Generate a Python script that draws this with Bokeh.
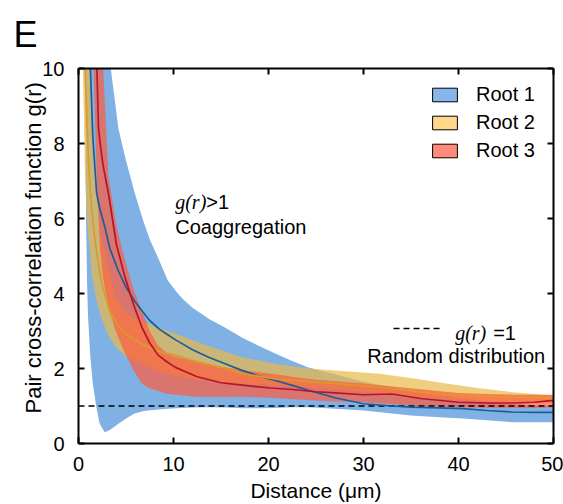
import numpy as np
from bokeh.plotting import figure
from bokeh.models import Range1d, LinearAxis, FixedTicker, Label, Legend, LegendItem, Title
from bokeh.embed import file_html
from bokeh.resources import INLINE

# ---------------- data ----------------
series_names = ["Root 1", "Root 2", "Root 3"]

# Root 1 (blue): distance, mean g(r), lower and upper band
r1_x = [0.7, 0.8, 0.9, 1.0, 1.25, 1.5, 1.9, 2.2, 2.75, 3.3, 4.2, 5.0, 5.9, 6.8, 7.5, 8.5, 9.4, 10.3,
        11, 12, 13.7, 15.5, 17.2, 19, 20.7, 22.5, 24.2, 27, 30, 33, 35, 38, 40.5, 43, 45.7, 48, 50]
r1_mean = [20, 18, 16, 13, 10, 8.2, 6.7, 6.3, 5.8, 5.2, 4.6, 4.17, 3.8, 3.5, 3.28, 3.05, 2.9, 2.75,
           2.65, 2.5, 2.3, 2.12, 1.95, 1.8, 1.68, 1.55, 1.42, 1.22, 1.06, 1.0, 0.97, 0.95, 0.93, 0.88, 0.84, 0.83, 0.83]
r1_lo = [10, 6, 4.3, 3.4, 2.3, 1.6, 0.95, 0.55, 0.3, 0.36, 0.53, 0.67, 0.8, 0.86, 0.89, 0.91, 0.93, 0.94,
         0.95, 0.96, 0.97, 0.96, 0.94, 0.94, 0.95, 0.97, 0.97, 0.93, 0.88, 0.8, 0.75, 0.7, 0.67, 0.62, 0.57, 0.57, 0.57]
r1_hi = [14, 14, 14, 14, 14, 14, 14, 14, 14, 10.2, 8.4, 7.55, 6.7, 5.95, 5.45, 4.88, 4.35, 4.05,
         3.85, 3.62, 3.33, 3.08, 2.83, 2.6, 2.4, 2.2, 2.03, 1.85, 1.65, 1.5, 1.4, 1.28, 1.2, 1.12, 1.05, 1.02, 1.0]

# Root 2 (yellow)
r2_x = [0.46, 0.7, 0.9, 1.05, 1.4, 1.8, 1.94, 2.4, 3.2, 4.0, 4.9, 5.8, 6.7, 7.5, 8.5, 10.2, 12.8,
        15.5, 17.2, 20.7, 24.2, 28, 31.7, 35, 38.7, 42, 45.7, 50]
r2_mean = [14, 10, 8.5, 7.5, 6.2, 5.3, 5.05, 4.3, 3.6, 3.2, 2.95, 2.78, 2.65, 2.55, 2.45, 2.35, 2.15,
           2.0, 1.87, 1.72, 1.65, 1.58, 1.5, 1.4, 1.3, 1.26, 1.24, 1.22]
r2_lo = [10, 7, 6.0, 5.5, 4.5, 3.95, 3.8, 3.35, 2.85, 2.55, 2.35, 2.22, 2.12, 2.02, 1.92, 1.8, 1.7,
         1.63, 1.6, 1.55, 1.5, 1.42, 1.35, 1.25, 1.18, 1.13, 1.1, 1.08]
r2_hi = [14, 14, 14, 11, 8.8, 7.0, 6.6, 5.6, 4.6, 3.9, 3.5, 3.37, 3.27, 3.18, 3.08, 2.93, 2.68,
         2.45, 2.3, 2.13, 2.0, 1.93, 1.86, 1.75, 1.6, 1.48, 1.37, 1.28]

# Root 3 (red)
r3_x = [1.58, 1.94, 2.1, 2.28, 2.6, 3.16, 4.0, 4.9, 5.8, 6.67, 7.5, 8.4, 9.3, 10.2, 12.5, 15, 17.5,
        20.2, 22.5, 25, 27, 30, 33, 36, 40, 43, 46, 48, 50]
r3_mean = [13, 10, 8.43, 8.0, 7.4, 6.66, 5.3, 4.43, 3.7, 3.1, 2.68, 2.35, 2.18, 2.03, 1.78, 1.62, 1.55,
           1.48, 1.44, 1.38, 1.35, 1.3, 1.32, 1.2, 1.1, 1.08, 1.08, 1.1, 1.15]
r3_lo = [10, 7.0, 6.0, 5.15, 4.4, 3.6, 2.95, 2.4, 1.95, 1.6, 1.47, 1.4, 1.33, 1.3, 1.25, 1.24, 1.24,
         1.22, 1.18, 1.15, 1.12, 1.1, 1.05, 1.0, 0.97, 0.95, 0.95, 0.95, 0.97]
r3_hi = [14, 14, 14, 14, 10, 7.1, 5.8, 4.88, 4.1, 3.55, 3.0, 2.6, 2.42, 2.3, 2.2, 2.05, 1.95,
         1.87, 1.78, 1.7, 1.66, 1.6, 1.52, 1.45, 1.35, 1.32, 1.3, 1.3, 1.3]

# random-distribution reference g(r) = 1
ref_x = [0, 50]
ref_y = [1, 1]

x_ticks = [0, 10, 20, 30, 40, 50]
y_ticks = [0, 2, 4, 6, 8, 10]

# ---------------- styles ----------------
band_colors = ["#7FB1E5", "#E9B949", "#FF5A3C"]
band_alphas = [1.0, 0.7, 0.7]
line_colors = ["#1D5C96", "#D99B2B", "#B5152B"]
swatch_colors = ["#86B6EA", "#FFD68A", "#FF8A7A"]
SANS = "Liberation Sans"
SERIF = "Liberation Serif"

p = figure(width=563, height=504, output_backend="svg", toolbar_location=None,
           x_range=Range1d(0, 50), y_range=Range1d(0, 10),
           min_border_left=78, min_border_right=10, min_border_top=68, min_border_bottom=61,
           x_axis_label="Distance (μm)", y_axis_label=None)
p.background_fill_color = "white"
p.border_fill_color = "white"
p.outline_line_color = None
p.xgrid.visible = False
p.ygrid.visible = False

p.title.text = "E"
p.title.text_font = SANS
p.title.text_font_style = "normal"
p.title.text_font_size = "36px"
p.title.text_color = "black"
p.title.align = "left"
p.title.vertical_align = "top"
p.title.offset = -65
p.title.standoff = 24


def style_axis(ax, ticks, show_labels, standoff):
    ax.ticker = FixedTicker(ticks=ticks)
    ax.axis_line_color = "black"
    ax.axis_line_width = 2
    ax.major_tick_line_color = "black"
    ax.major_tick_line_width = 2
    ax.major_tick_in = 6
    ax.major_tick_out = 0
    ax.minor_tick_line_color = None
    ax.major_label_text_font = SANS
    if show_labels:
        ax.major_label_text_color = "black"
        ax.major_label_text_font_size = "20px"
        ax.major_label_standoff = standoff
    else:
        ax.major_label_text_color = None
        ax.major_label_text_font_size = "1px"
        ax.major_label_standoff = 0


style_axis(p.xaxis[0], x_ticks, True, 13)
style_axis(p.yaxis[0], y_ticks, True, 14)
p.xaxis[0].axis_label_text_font = SANS
p.xaxis[0].axis_label_text_font_style = "normal"
p.xaxis[0].axis_label_text_font_size = "21px"
p.xaxis[0].axis_label_text_color = "black"
p.xaxis[0].axis_label_standoff = 5

top_ax = LinearAxis()
right_ax = LinearAxis()
style_axis(top_ax, x_ticks, False, 0)
style_axis(right_ax, y_ticks, False, 0)
p.add_layout(top_ax, "above")
p.add_layout(right_ax, "right")

# y-axis title, placed as a side title so it can be shifted along the axis
ytitle = Title(text="Pair cross-correlation function g(r)", align="left", offset=30,
               vertical_align="bottom", standoff=-13,
               text_font=SANS, text_font_style="normal", text_font_size="22px",
               text_color="black")
p.add_layout(ytitle, "left")

# bands
xs = [r1_x, r2_x, r3_x]
los = [r1_lo, r2_lo, r3_lo]
his = [r1_hi, r2_hi, r3_hi]
means = [r1_mean, r2_mean, r3_mean]
for i in range(3):
    p.varea(x=xs[i], y1=los[i], y2=his[i], fill_color=band_colors[i], fill_alpha=band_alphas[i])

ref = p.line(ref_x, ref_y, line_color="black", line_width=1.5, line_dash="6 4")

for i in range(3):
    p.line(xs[i], means[i], line_color=line_colors[i], line_width=1.7)

# legend swatches (off-screen renderers used only for the legend)
sw = []
for i in range(3):
    sw.append(p.quad(left=[np.nan], right=[np.nan], top=[np.nan], bottom=[np.nan],
                     fill_color=swatch_colors[i], line_color="black", line_width=1))

legend = Legend(items=[LegendItem(label=series_names[i], renderers=[sw[i]]) for i in range(3)],
                location=(351, 281), glyph_width=31, glyph_height=17, label_height=17,
                label_standoff=16, spacing=5, padding=0, margin=0,
                border_line_alpha=0, background_fill_alpha=0,
                label_text_font=SANS, label_text_font_size="20px", label_text_color="black")
p.add_layout(legend)

legend2 = Legend(items=[LegendItem(label=" ", renderers=[ref])],
                 location=(315, 112), glyph_width=48, glyph_height=6, label_height=6, label_width=2,
                 label_standoff=0, padding=0, margin=0, border_line_alpha=0, background_fill_alpha=0,
                 label_text_font_size="6px", label_text_color=None)
p.add_layout(legend2)


# text annotations
def lab(x, y, text, font=SANS, style="normal", size="20px", align="left"):
    p.add_layout(Label(x=x, y=y, text=text, text_font=font, text_font_style=style,
                       text_font_size=size, text_align=align, text_baseline="alphabetic",
                       text_color="black"))


lab(10.18, 6.44, "g(r)", font=SERIF, style="italic")
lab(13.45, 6.44, ">1")
lab(10.18, 5.78, "Coaggregation")
lab(39.65, 2.94, "g(r)", font=SERIF, style="italic")
lab(43.65, 2.94, "=1")
lab(49.13, 2.33, "Random distribution", align="right")

open("out.html", "w").write(file_html(p, INLINE))
